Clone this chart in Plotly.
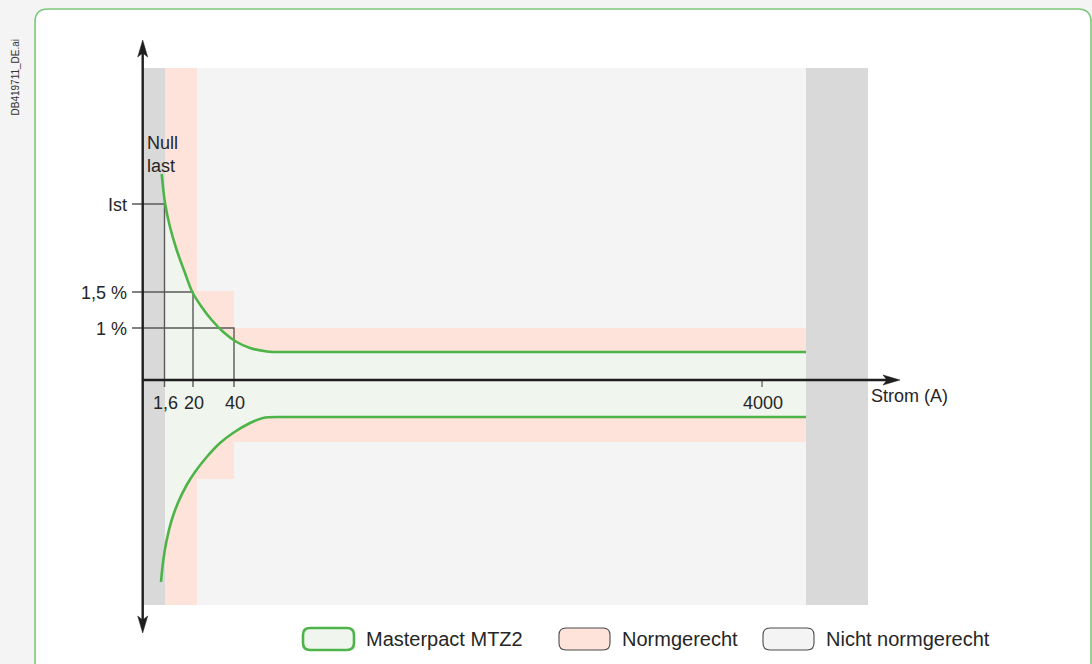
import plotly.graph_objects as go

# ---- schematic data ------------------------------------------------------
# Currents marked on the horizontal axis and where they sit on the sketch axis
current_labels = ["1,6", "20", "40", "4000"]
current_pos = [22.5, 51, 92, 620]

# Leakage levels on the vertical axis and the current mark each one runs to
level_labels = ["Ist", "1,5 %", "1 %"]
level_pos = [176, 88, 52]
level_current = [0, 1, 2]

# Upper and lower envelope of the Masterpact MTZ2 characteristic
# (curved part followed by the constant part up to the end point)
upper_x = [19.7, 23, 28, 34.7, 43, 50.3, 59.7, 69.7, 81.3, 94.7, 108, 125, 140, 664]
upper_y = [206, 177, 153, 130, 107, 88, 73, 60, 48, 38, 32, 28.5, 28, 28]
lower_x = [19, 21.3, 24.7, 29.7, 36.3, 44.7, 53, 64.7, 78, 91, 108, 121, 135, 664]
lower_y = [-202, -180, -160, -140, -122, -105, -92, -77, -63, -53, -43, -38, -37, -37]

# Compliant zone ("Normgerecht") as steps: edges along x, top and bottom per step
norm_edges = [23, 55, 92, 664]
norm_top = [312, 89, 52]
norm_bottom = [-225, -99, -62]

# Non-compliant strips ("Nicht normgerecht") and the overall drawing panel
nicht_strips = [(1, 23), (664, 726)]
panel_x = (1, 726)
panel_y = (-225, 312)

legend_labels = ["Masterpact MTZ2", "Normgerecht", "Nicht normgerecht"]

# ---- styles --------------------------------------------------------------
FONT = "Liberation Sans, Arial, Helvetica, sans-serif"
TXT = "#262626"
GREEN = "#4cb448"
GREEN_FILL = "#f0f5ee"
SALMON = "#fde3d9"
GRAY = "#d9d9d9"
PANEL = "#f4f4f4"
AXIS = "#1e1e1e"
REF = "#5a5a5a"

X_RANGE = (-142, 950)
Y_RANGE = (-284, 380)


def rounded_rect(x0, y0, x1, y1, r):
    """SVG path of a rectangle with rounded corners (y0 bottom, y1 top)."""
    return (f"M {x0 + r},{y1} L {x1 - r},{y1} Q {x1},{y1} {x1},{y1 - r} "
            f"L {x1},{y0 + r} Q {x1},{y0} {x1 - r},{y0} L {x0 + r},{y0} "
            f"Q {x0},{y0} {x0},{y0 + r} L {x0},{y1 - r} Q {x0},{y1} {x0 + r},{y1} Z")


def arrow_head(tx, ty, dx, dy, length=17, half=5, notch=4):
    """Notched arrow head with its tip at (tx, ty) pointing along (dx, dy)."""
    px, py = -dy, dx
    bx, by = tx - dx * length, ty - dy * length
    nx, ny = tx - dx * (length - notch), ty - dy * (length - notch)
    return (f"M {tx},{ty} L {bx + px * half},{by + py * half} "
            f"L {nx},{ny} L {bx - px * half},{by - py * half} Z")


fig = go.Figure()
shapes = []

# white card with green rounded border
shapes.append(dict(type="path", path=rounded_rect(-107, -320, 949, 371, 13),
                   fillcolor="white", line=dict(color="#7cc87a", width=1.6),
                   layer="below"))
# drawing panel
shapes.append(dict(type="rect", x0=panel_x[0], x1=panel_x[1], y0=panel_y[0],
                   y1=panel_y[1], fillcolor=PANEL, line=dict(width=0), layer="below"))
# compliant steps
for i in range(len(norm_top)):
    shapes.append(dict(type="rect", x0=norm_edges[i], x1=norm_edges[i + 1],
                       y0=norm_bottom[i], y1=norm_top[i], fillcolor=SALMON,
                       line=dict(width=0), layer="below"))

# band enclosed by the characteristic
fig.add_trace(go.Scatter(
    x=upper_x + lower_x[::-1], y=upper_y + lower_y[::-1],
    mode="lines", fill="toself", fillcolor=GREEN_FILL,
    line=dict(width=0), hoverinfo="skip"))

# non-compliant strips
for x0, x1 in nicht_strips:
    fig.add_trace(go.Scatter(
        x=[x0, x1, x1, x0, x0],
        y=[panel_y[0], panel_y[0], panel_y[1], panel_y[1], panel_y[0]],
        mode="lines", fill="toself", fillcolor=GRAY, line=dict(width=0),
        hoverinfo="skip"))

# reference lines from the level marks to the current marks
for lv, ci in zip(level_pos, level_current):
    cx = current_pos[ci]
    fig.add_trace(go.Scatter(x=[-10, cx, cx], y=[lv, lv, -7], mode="lines",
                             line=dict(color=REF, width=1.4), hoverinfo="skip"))
# tick for the last current mark
fig.add_trace(go.Scatter(x=[current_pos[3]] * 2, y=[0, -7], mode="lines",
                         line=dict(color=REF, width=1.2), hoverinfo="skip"))

# characteristic curves: smooth knee, then straight constant part
for xs, ys in ((upper_x, upper_y), (lower_x, lower_y)):
    fig.add_trace(go.Scatter(x=xs[:-1], y=ys[:-1], mode="lines",
                             line=dict(color=GREEN, width=2.6, shape="spline",
                                       smoothing=1.0),
                             hoverinfo="skip"))
    fig.add_trace(go.Scatter(x=xs[-2:], y=ys[-2:], mode="lines",
                             line=dict(color=GREEN, width=2.6),
                             hoverinfo="skip"))

# axes
fig.add_trace(go.Scatter(x=[0.7, 0.7], y=[-240, 330], mode="lines",
                         line=dict(color=AXIS, width=2.4), hoverinfo="skip"))
fig.add_trace(go.Scatter(x=[0, 748], y=[0, 0], mode="lines",
                         line=dict(color=AXIS, width=2.4), hoverinfo="skip"))
for tx, ty, dx, dy in ((0.7, 340, 0, 1), (0.7, -253, 0, -1), (758, 0, 1, 0)):
    shapes.append(dict(type="path", path=arrow_head(tx, ty, dx, dy),
                       fillcolor=AXIS, line=dict(color=AXIS, width=0.5),
                       layer="above"))

annotations = []
txt_font = dict(family=FONT, size=18, color=TXT)

for lab, cx in zip(current_labels, current_pos):
    annotations.append(dict(x=cx + 0.5, y=-23, text=lab, showarrow=False,
                            xanchor="center", yanchor="middle", font=txt_font))
for lab, lv in zip(level_labels, level_pos):
    annotations.append(dict(x=-13, y=lv - 1, text=lab, showarrow=False,
                            xanchor="right", yanchor="middle", font=txt_font))
annotations.append(dict(x=727, y=-16, text="Strom (A)", showarrow=False,
                        xanchor="left", yanchor="middle", font=txt_font))
annotations.append(dict(x=3, y=226, text="Null<br>last", showarrow=False,
                        xanchor="left", yanchor="middle", align="left",
                        font=txt_font))
annotations.append(dict(x=-127.5, y=303, text="DB419711_DE.ai", showarrow=False,
                        textangle=-90, xanchor="center", yanchor="middle",
                        font=dict(family=FONT, size=10, color="#333333")))

# legend
legend_box_x = [161, 417, 621]
legend_fill = [GREEN_FILL, SALMON, PANEL]
legend_line = [dict(color=GREEN, width=2.6), dict(color="#4a4a4a", width=1.1),
               dict(color="#4a4a4a", width=1.1)]
for lab, bx, fc, ln in zip(legend_labels, legend_box_x, legend_fill, legend_line):
    shapes.append(dict(type="path", path=rounded_rect(bx, -270, bx + 51, -248, 7),
                       fillcolor=fc, line=ln, layer="above"))
    annotations.append(dict(x=bx + 61, y=-259, text=lab, showarrow=False,
                            xanchor="left", yanchor="middle",
                            font=dict(family=FONT, size=20, color=TXT)))

fig.update_layout(
    width=1092, height=664,
    margin=dict(l=0, r=0, t=0, b=0),
    paper_bgcolor="#f4f4f4", plot_bgcolor="rgba(0,0,0,0)",
    showlegend=False,
    xaxis=dict(range=list(X_RANGE), visible=False, fixedrange=True),
    yaxis=dict(range=list(Y_RANGE), visible=False, fixedrange=True),
    shapes=shapes, annotations=annotations,
)

fig.write_html("out.html", config={"displayModeBar": False})
